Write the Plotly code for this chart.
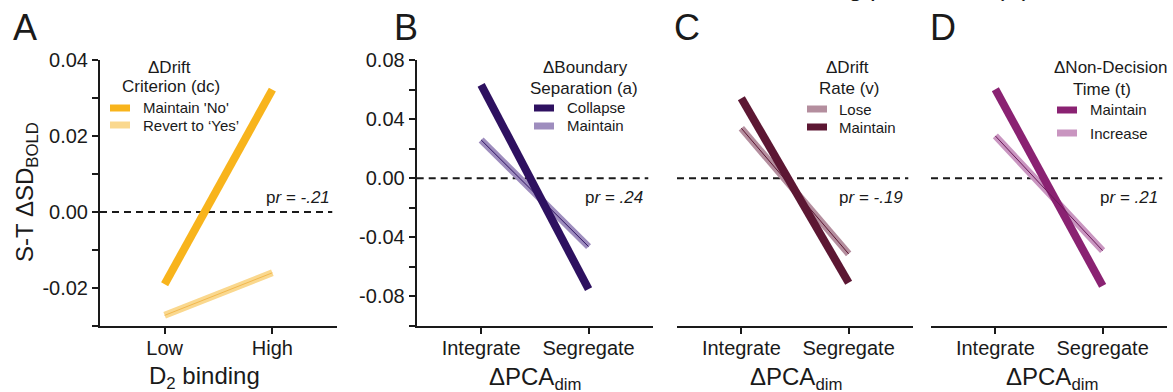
import plotly.graph_objects as go

W, H = 1173, 392
FONT = "Liberation Sans, Arial, sans-serif"
INK = "#1a1a1a"

# ---------------- data ----------------
d2_levels = ["Low", "High"]
pca_levels = ["Integrate", "Segregate"]

# Panel A: drift criterion (dc)
a_maintain_no = [-0.0190, 0.0322]
a_revert_yes = [-0.0272, -0.0160]
# Panel B: boundary separation (a)
b_collapse = [0.0632, -0.0751]
b_maintain = [0.0259, -0.0463]
# Panel C: drift rate (v)
c_lose = [0.0338, -0.0512]
c_maintain = [0.0541, -0.0707]
# Panel D: non-decision time (t)
d_maintain = [0.0602, -0.0729]
d_increase = [0.0286, -0.0490]

pr_labels = ["-.21", ".24", "-.19", ".21"]

ya_ticks = [-0.02, 0.00, 0.02, 0.04]
ya_text = ["-0.02", "0.00", "0.02", "0.04"]
yb_ticks = [-0.08, -0.04, 0.00, 0.04, 0.08]
yb_text = ["-0.08", "-0.04", "0.00", "0.04", "0.08"]

# colours
COL_A1, COL_A2, COL_A2C = "#F8B41C", "#FAD88E", "#F2B84E"
COL_B1, COL_B2, COL_B2C = "#2E1160", "#9E8DBE", "#2E1160"
COL_C1, COL_C2, COL_C2C = "#5C1733", "#B48E9E", "#5C1733"
COL_D1, COL_D2, COL_D2C = "#8A2272", "#C995C0", "#6a1a58"


def px(x):
    return x / W


def py(y):
    return 1 - y / H


fig = go.Figure()

YDOM = [py(326), py(60)]
xdoms = [(100, 337), (416.7, 653), (677, 913), (931, 1167)]


def add_line(xs, ys, color, width, xa, ya):
    fig.add_trace(go.Scatter(x=xs, y=ys, mode="lines", xaxis=xa, yaxis=ya,
                             line=dict(color=color, width=width),
                             showlegend=False, hoverinfo="skip"))


# Panel A
add_line(d2_levels, a_revert_yes, COL_A2, 7, "x", "y")
add_line(d2_levels, a_revert_yes, COL_A2C, 1, "x", "y")
add_line(d2_levels, a_maintain_no, COL_A1, 8, "x", "y")
# Panel B
add_line(pca_levels, b_maintain, COL_B2, 7, "x2", "y2")
add_line(pca_levels, b_collapse, COL_B1, 8, "x2", "y2")
add_line(pca_levels, b_maintain, COL_B2C, 1, "x2", "y2")
# Panel C
add_line(pca_levels, c_lose, COL_C2, 7, "x3", "y3")
add_line(pca_levels, c_maintain, COL_C1, 8, "x3", "y3")
add_line(pca_levels, c_lose, COL_C2C, 1, "x3", "y3")
# Panel D
add_line(pca_levels, d_increase, COL_D2, 7, "x4", "y4")
add_line(pca_levels, d_maintain, COL_D1, 8, "x4", "y4")
add_line(pca_levels, d_increase, COL_D2C, 1, "x4", "y4")

axis_common = dict(showgrid=False, zeroline=False, showline=True, linewidth=2,
                   linecolor=INK, ticks="outside", ticklen=6, tickwidth=2,
                   tickcolor=INK, tickfont=dict(family=FONT, size=20, color=INK))

layout = dict(
    width=W, height=H, margin=dict(l=0, r=0, t=0, b=0, autoexpand=False),
    paper_bgcolor="white", plot_bgcolor="white", showlegend=False,
)
for i, (x0, x1) in enumerate(xdoms):
    k = "" if i == 0 else str(i + 1)
    cats = d2_levels if i == 0 else pca_levels
    layout["xaxis" + k] = dict(axis_common, domain=[px(x0), px(x1)], type="category",
                               categoryorder="array", categoryarray=cats,
                               range=[-0.6, 1.6], anchor="y" + k,
                               ticklabelstandoff=-3)
    if i == 0:
        layout["yaxis"] = dict(axis_common, domain=YDOM, range=[-0.03, 0.04],
                               tickvals=ya_ticks, ticktext=ya_text, anchor="x",
                               minor=dict(ticks="outside", ticklen=6, tickwidth=2,
                                          tickcolor=INK, dtick=0.01, tick0=0,
                                          showgrid=False))
    elif i == 1:
        layout["yaxis2"] = dict(axis_common, domain=YDOM, range=[-0.10, 0.08],
                                tickvals=yb_ticks, ticktext=yb_text, anchor="x2",
                                minor=dict(ticks="outside", ticklen=6, tickwidth=2,
                                           tickcolor=INK, dtick=0.02, tick0=0,
                                           showgrid=False))
    else:
        layout["yaxis" + k] = dict(domain=YDOM, range=[-0.10, 0.08], visible=False,
                                   showgrid=False, zeroline=False, anchor="x" + k)
fig.update_layout(**layout)

# dashed zero lines
for i in range(4):
    k = "" if i == 0 else str(i + 1)
    fig.add_shape(type="line", xref=("x" + k) + " domain", yref="y" + k,
                  x0=0, x1=0.98, y0=0, y1=0,
                  line=dict(color=INK, width=2, dash="7px,5px"), layer="below")

ann = []


def text(x, y, s, size, xanchor="center", yanchor="middle", angle=0, color=INK):
    ann.append(dict(x=px(x), y=py(y), xref="paper", yref="paper", text=s,
                    showarrow=False, xanchor=xanchor, yanchor=yanchor,
                    textangle=angle, font=dict(family=FONT, size=size, color=color)))


def swatch(x0, yc, color):
    fig.add_shape(type="rect", xref="paper", yref="paper", x0=px(x0), x1=px(x0 + 20),
                  y0=py(yc + 3.5), y1=py(yc - 3.5), line=dict(width=0), fillcolor=color)


# panel letters
for lx, lt in [(11, "A"), (392, "B"), (672, "C"), (928, "D")]:
    text(lx, 28, lt, 36, xanchor="left")

# cut-off heading at the very top
text(1032, -13, "Drift diffusion modelling parameter (Δ)", 26, xanchor="right")

# axis titles
text(26, 192, "S-T ΔSD<sub>BOLD</sub>", 24, angle=-90)
text(204, 377, "D<sub>2</sub> binding", 24)
for cx in (534.5, 796, 1052):
    text(cx, 378, "ΔPCA<sub>dim</sub>", 24)

# partial r labels
for (rx, lab) in zip((332, 645, 905, 1160), pr_labels):
    text(rx, 197, "p<i>r = " + lab + "</i>", 17, xanchor="right")

# legends
text(169, 67, "ΔDrift", 17)
text(171, 87, "Criterion (dc)", 17)
swatch(110, 108, COL_A1)
swatch(110, 125, COL_A2)
text(141, 108, "Maintain 'No'", 15, xanchor="left")
text(141, 125, "Revert to ‘Yes’", 15, xanchor="left")

text(585, 68, "ΔBoundary", 17)
text(584, 88, "Separation (a)", 17)
swatch(534, 108, COL_B1)
swatch(534, 126, COL_B2)
text(565, 108, "Collapse", 15, xanchor="left")
text(565, 126, "Maintain", 15, xanchor="left")

text(847, 68, "ΔDrift", 17)
text(849, 88, "Rate (v)", 17)
swatch(807, 109, COL_C2)
swatch(807, 127, COL_C1)
text(837, 109, "Lose", 15, xanchor="left")
text(837, 127, "Maintain", 15, xanchor="left")

text(1110, 68, "ΔNon-Decision", 17)
text(1102, 89, "Time (t)", 17)
swatch(1057, 110, COL_D1)
swatch(1057, 133, COL_D2)
text(1088, 110, "Maintain", 15, xanchor="left")
text(1088, 133, "Increase", 15, xanchor="left")

fig.update_layout(annotations=ann)
fig.write_html("out.html")
